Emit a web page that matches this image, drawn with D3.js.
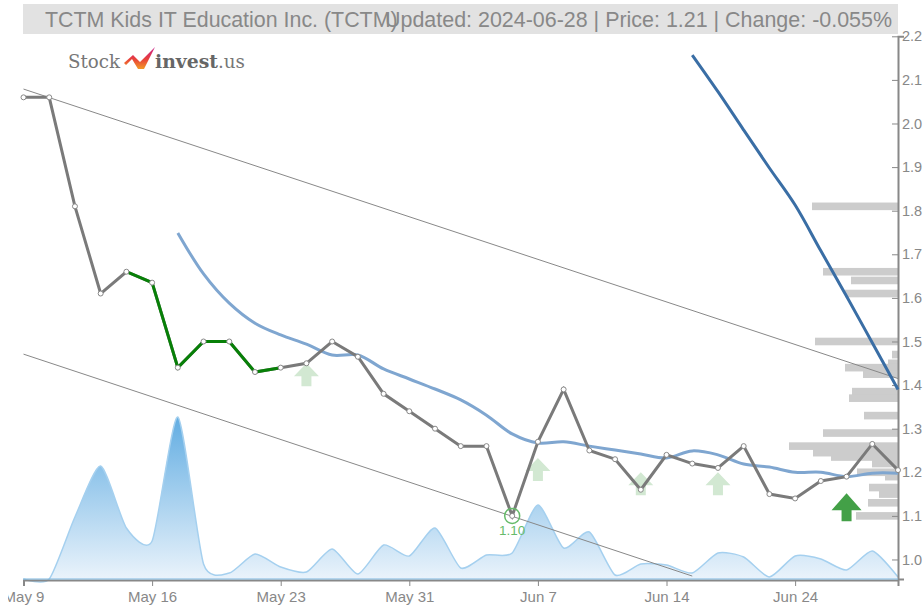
<!DOCTYPE html>
<html>
<head>
<meta charset="utf-8">
<script src="https://cdn.jsdelivr.net/npm/d3@7"></script>
<style>
  html, body { margin: 0; padding: 0; background: #fff; overflow: hidden; }
  svg { position: absolute; left: 8px; top: 0; }
  text { font-family: "Liberation Sans", Arial, sans-serif; }
</style>
</head>
<body>
<div id="chart"></div>
<script>
// trading days
const dates = ["May 9","May 10","May 13","May 14","May 15","May 16","May 17","May 20","May 21","May 22","May 23","May 24","May 28","May 29","May 30","May 31","Jun 3","Jun 4","Jun 5","Jun 6","Jun 7","Jun 10","Jun 11","Jun 12","Jun 13","Jun 14","Jun 17","Jun 18","Jun 20","Jun 21","Jun 24","Jun 25","Jun 26","Jun 27","Jun 28"];
const tickDates = ["May 9","May 16","May 23","May 31","Jun 7","Jun 14","Jun 24"];
const priceTicks = [1.0,1.1,1.2,1.3,1.4,1.5,1.6,1.7,1.8,1.9,2.0,2.1,2.2];

const prices = [2.06,2.06,1.81,1.61,1.66,1.635,1.44,1.50,1.50,1.43,1.44,1.45,1.50,1.465,1.38,1.34,1.30,1.26,1.26,1.10,1.27,1.39,1.25,1.23,1.16,1.24,1.22,1.21,1.26,1.15,1.14,1.18,1.19,1.265,1.205];
// stretch of the price line drawn green
const greenFrom = "May 15";
const greenTo = "May 23";

// long average, starts May 17
const avgDates = dates.slice(6);
const avgValues = [1.749,1.655,1.588,1.542,1.515,1.494,1.469,1.469,1.437,1.414,1.391,1.366,1.331,1.288,1.267,1.27,1.26,1.251,1.242,1.233,1.249,1.24,1.219,1.212,1.2,1.2,1.19,1.198,1.198];

// steep dark blue line, starts Jun 17
const steepDates = dates.slice(26);
const steepValues = [2.157,2.073,1.985,1.898,1.813,1.708,1.604,1.497,1.39];

// trend channel, ends given as date and price
const upperDates = ["May 9","Jun 28"];
const upperValues = [2.079,1.415];
const lowerDates = ["May 9","Jun 17"];
const lowerValues = [1.471,0.962];

// volume in thousands
const volumes = [0,0,62,113,51,38,162,15,6,25,12,7,30,5,34,23,51,11,24,26,74,31,47,4,15,14,6,26,22,2,23,20,9,28,2];

// volume profile at the right edge
const profilePrices = [1.81,1.66,1.64,1.61,1.5,1.47,1.45,1.44,1.425,1.385,1.37,1.33,1.29,1.26,1.245,1.235,1.22,1.2,1.19,1.165,1.15,1.13,1.1];
const profileSizes = [86,75,47,53,83,6,10,53,35,46,49,34,75,109,85,67,26,41,13,29,19,30,42];

// buy signals, arrow tip price
const signalDates = ["May 24","Jun 7","Jun 13","Jun 18"];
const signalTips = [1.45,1.233,1.2,1.2];
const strongDates = ["Jun 26"];
const strongTips = [1.152];

const lowDate = "Jun 6";
const lowValue = 1.10;

const width = 915, height = 607;

var svg = d3.select("#chart")
    .append("svg")
    .attr("width", width)
    .attr("height", height)
    .append("g")
    .attr("transform", "translate(-8,0)");

var x = d3.scalePoint().domain(dates).range([23.5, 898]);
var y = d3.scaleLinear().domain([0.955, 2.2]).range([579.1, 36.3]);
var yVol = d3.scaleLinear().domain([0, 162]).range([579, 417]);
var xProfile = d3.scaleLinear().domain([0, 109]).range([898, 789]);

// header band
svg.append("rect").attr("x", 23).attr("y", 4).attr("width", 875).attr("height", 30).attr("fill", "#e2e2e2");
svg.append("text").attr("x", 45).attr("y", 27)
    .attr("font-size", 21.4).attr("fill", "#888")
    .text("TCTM Kids IT Education Inc. (TCTM)");
svg.append("text").attr("x", 892).attr("y", 27)
    .attr("text-anchor", "end").attr("font-size", 21.4).attr("fill", "#888")
    .attr("textLength", 507).attr("lengthAdjust", "spacingAndGlyphs")
    .text("Updated: 2024-06-28 | Price: 1.21 | Change: -0.055%");

// logo
var logoDefs = svg.append("defs");
var logoGrad = logoDefs.append("linearGradient").attr("id", "logoGrad")
    .attr("x1", "0%").attr("x2", "0%").attr("y1", "0%").attr("y2", "100%");
logoGrad.append("stop").attr("offset", "0%").attr("stop-color", "#c81e8c");
logoGrad.append("stop").attr("offset", "55%").attr("stop-color", "#e8403a");
logoGrad.append("stop").attr("offset", "100%").attr("stop-color", "#f29a26");
svg.append("text").attr("x", 68).attr("y", 68)
    .attr("font-size", 18.5).attr("fill", "#777").style("font-family", "'DejaVu Serif', serif")
    .attr("textLength", 52).attr("lengthAdjust", "spacingAndGlyphs").text("Stock");
svg.append("path").attr("d", "M124,63 L133,55 L140,62 L155,47 L144,69 L138,69 L132,59 L126,65 Z").attr("fill", "url(#logoGrad)");
svg.append("text").attr("x", 155).attr("y", 68)
    .attr("font-size", 18.5).attr("font-weight", "bold").attr("fill", "#666").style("font-family", "'DejaVu Serif', serif")
    .attr("textLength", 63).attr("lengthAdjust", "spacingAndGlyphs").text("invest");
svg.append("text").attr("x", 218).attr("y", 68)
    .attr("font-size", 18.5).attr("fill", "#777").style("font-family", "'DejaVu Serif', serif")
    .attr("textLength", 27).attr("lengthAdjust", "spacingAndGlyphs").text(".us");

// volume area
var volGrad = logoDefs.append("linearGradient").attr("id", "volGrad")
    .attr("gradientUnits", "userSpaceOnUse")
    .attr("x1", 0).attr("x2", 0).attr("y1", 417).attr("y2", 579);
volGrad.append("stop").attr("offset", "0%").attr("stop-color", "#62ade2");
volGrad.append("stop").attr("offset", "100%").attr("stop-color", "#eaf3fb");

var volArea = d3.area()
    .x(function (d, i) { return x(dates[i]); })
    .y0(yVol(0))
    .y1(function (d) { return yVol(d); })
    .curve(d3.curveCardinal.tension(0.35));

svg.append("path").datum(volumes).attr("d", volArea).attr("fill", "url(#volGrad)");
svg.append("path").datum(volumes)
    .attr("d", volArea.lineY1())
    .attr("fill", "none").attr("stroke", "#a5d0ef").attr("stroke-width", 1.5);

// volume profile
svg.append("g").selectAll("rect")
    .data(profilePrices)
    .enter()
    .append("rect")
    .attr("x", function (d, i) { return xProfile(profileSizes[i]); })
    .attr("y", function (d) { return y(d) - 3.8; })
    .attr("width", function (d, i) { return xProfile(0) - xProfile(profileSizes[i]); })
    .attr("height", 7.6)
    .attr("fill", "#cccccc");

// x axis
var xAxis = svg.append("g")
    .attr("transform", "translate(0,580)")
    .call(d3.axisBottom(x).tickValues(tickDates).tickSize(6).tickPadding(5));
xAxis.select(".domain").attr("stroke", "#888").attr("stroke-width", 2);
xAxis.selectAll("line").attr("stroke", "#888");
xAxis.selectAll("text").attr("fill", "#888").attr("font-size", 15).style("font-family", "'Liberation Sans', sans-serif");

// y axis on the right
var yAxis = svg.append("g")
    .attr("transform", "translate(898,0)")
    .call(d3.axisRight(y).tickValues(priceTicks).tickFormat(d3.format(".1f")));
yAxis.select(".domain").attr("stroke", "#888").attr("stroke-width", 2);
yAxis.selectAll("line").attr("x2", -6).attr("stroke", "#888");
yAxis.selectAll("text").attr("x", 4).attr("fill", "#888").attr("font-size", 14.5).style("font-family", "'Liberation Sans', sans-serif");

// baseline of the volume area
svg.append("line").attr("x1", 23).attr("x2", 898).attr("y1", yVol(0)).attr("y2", yVol(0))
    .attr("stroke", "#7fb8e0").attr("stroke-width", 1.2);

// channel lines
var channel = d3.line()
    .x(function (d) { return x(d[0]); })
    .y(function (d) { return y(d[1]); });
svg.append("path").datum(d3.zip(upperDates, upperValues)).attr("d", channel)
    .attr("fill", "none").attr("stroke", "#888").attr("stroke-width", 1);
svg.append("path").datum(d3.zip(lowerDates, lowerValues)).attr("d", channel)
    .attr("fill", "none").attr("stroke", "#888").attr("stroke-width", 1);

// averages
var smooth = d3.line()
    .x(function (d) { return x(d[0]); })
    .y(function (d) { return y(d[1]); })
    .curve(d3.curveCatmullRom);
svg.append("path").datum(d3.zip(avgDates, avgValues)).attr("d", smooth)
    .attr("fill", "none").attr("stroke", "#7fa6d0").attr("stroke-width", 3);
svg.append("path").datum(d3.zip(steepDates, steepValues)).attr("d", smooth)
    .attr("fill", "none").attr("stroke", "#3a6ea5").attr("stroke-width", 3);

// signal arrows, drawn relative to the tip
function arrow(tw, hh, sw, total) {
    return "M0,0 L" + tw/2 + "," + hh + " L" + sw/2 + "," + hh + " L" + sw/2 + "," + total +
        " L" + (-sw/2) + "," + total + " L" + (-sw/2) + "," + hh + " L" + (-tw/2) + "," + hh + " Z";
}
svg.append("g").selectAll("path")
    .data(signalDates)
    .enter()
    .append("path")
    .attr("d", arrow(25, 13, 10, 23))
    .attr("transform", function (d, i) { return "translate(" + x(d) + "," + y(signalTips[i]) + ")"; })
    .attr("fill", "#d2e8d2");
svg.append("g").selectAll("path")
    .data(strongDates)
    .enter()
    .append("path")
    .attr("d", arrow(30, 17, 10, 28))
    .attr("transform", function (d, i) { return "translate(" + x(d) + "," + y(strongTips[i]) + ")"; })
    .attr("fill", "#43a047");

// price line
var priceRows = d3.zip(dates, prices);
var priceLine = d3.line()
    .x(function (d) { return x(d[0]); })
    .y(function (d) { return y(d[1]); });
svg.append("path").datum(priceRows).attr("d", priceLine)
    .attr("fill", "none").attr("stroke", "#7a7a7a").attr("stroke-width", 3);
var greenRows = priceRows.slice(dates.indexOf(greenFrom), dates.indexOf(greenTo) + 1);
svg.append("path").datum(greenRows).attr("d", priceLine)
    .attr("fill", "none").attr("stroke", "#078007").attr("stroke-width", 3);

svg.append("g").selectAll("circle")
    .data(priceRows)
    .enter()
    .append("circle")
    .attr("cx", function (d) { return x(d[0]); })
    .attr("cy", function (d) { return y(d[1]); })
    .attr("r", 2.5)
    .attr("fill", "#fff")
    .attr("stroke", "#888")
    .attr("stroke-width", 1);

// period low marker
svg.append("circle")
    .attr("cx", x(lowDate)).attr("cy", y(lowValue)).attr("r", 7.5)
    .attr("fill", "none").attr("stroke", "#66bb6a").attr("stroke-width", 1.5);
svg.append("text")
    .attr("x", x(lowDate)).attr("y", y(lowValue) + 19.5)
    .attr("text-anchor", "middle").attr("font-size", 13.5).attr("fill", "#66bb6a")
    .text(d3.format(".2f")(lowValue));
</script>
</body>
</html>
